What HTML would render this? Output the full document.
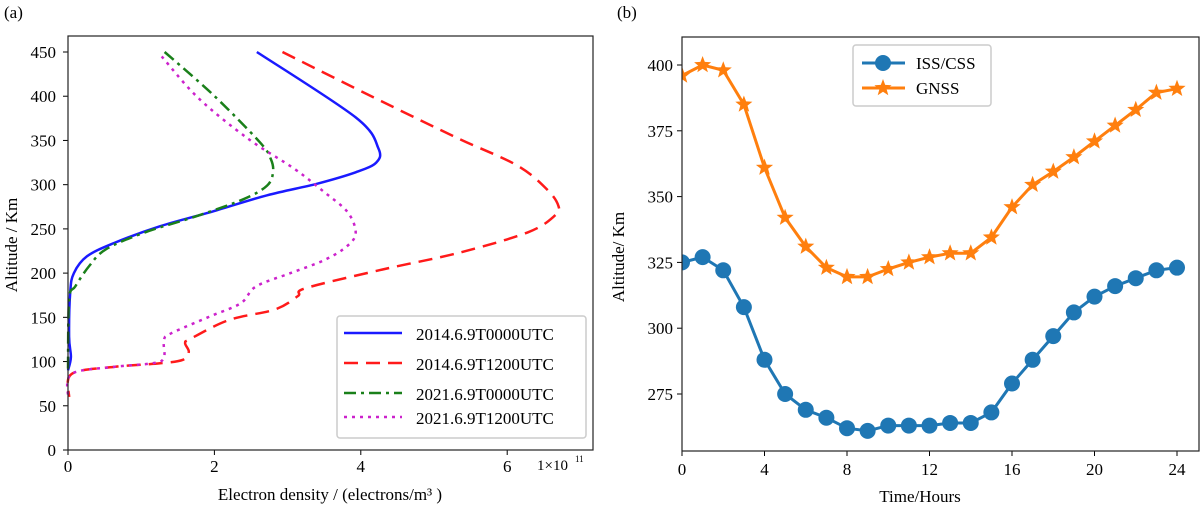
<!DOCTYPE html>
<html><head><meta charset="utf-8"><style>
body{margin:0;background:#fff;}
svg{display:block;font-family:"Liberation Serif",serif;}
</style></head><body>
<svg id="s" width="1200" height="508" xmlns="http://www.w3.org/2000/svg"></svg>
<script>
// Panel (a) data: [density x1e11, altitude km]
const blueData=[[2.58,450],[3.93,376],[4.24,341],[4.21,325],[3.93,314],[3.40,301],[2.72,288],[1.99,270],[1.26,253],[0.63,234],[0.26,219],[0.08,200],[0.03,178],[0.015,128],[0.04,105],[0.0,90]];
const redData=[[2.93,450],[4.29,394],[5.34,352],[6.13,322],[6.54,295],[6.70,276],[6.65,265],[6.28,246],[5.34,223],[4.29,204],[3.25,183],[3.14,174],[2.83,159],[2.2,147],[1.68,126],[1.6,121],[1.65,111],[1.57,102],[1.26,98],[0.63,94],[0.05,86],[0.015,60]];
const greenData=[[1.32,450],[1.99,401],[2.62,348],[2.77,329],[2.80,314],[2.72,299],[2.41,284],[1.78,265],[1.05,246],[0.52,227],[0.29,208],[0.1,185],[0.015,170],[0.0,90]];
const magentaData=[[1.28,445],[1.78,398],[2.46,352],[3.09,318],[3.51,291],[3.82,269],[3.93,246],[3.82,231],[3.51,215],[3.04,200],[2.57,185],[2.36,166],[1.94,151],[1.41,132],[1.31,124],[1.31,104],[1.15,98],[0.63,94],[0.05,86],[0.0,60]];
const aXTicks=[0,2,4,6];
const aYTicks=[0,50,100,150,200,250,300,350,400,450];
const aLegend=["2014.6.9T0000UTC","2014.6.9T1200UTC","2021.6.9T0000UTC","2021.6.9T1200UTC"];
// Panel (b) data
const hours=[0,1,2,3,4,5,6,7,8,9,10,11,12,13,14,15,16,17,18,19,20,21,22,23,24];
const gnss=[396,400,398,385,361,342,331,323,319.5,319.5,322.5,325,327,328.5,328.5,334.5,346,354.5,359.5,365,371,377,383,389.5,391];
const iss=[325,327,322,308,288,275,269,266,262,261,263,263,263,264,264,268,279,288,297,306,312,316,319,322,323];
const bXTicks=[0,4,8,12,16,20,24];
const bYTicks=[275,300,325,350,375,400];

const NS="http://www.w3.org/2000/svg";
const svg=document.getElementById('s');
function el(tag,attrs,parent,text){const e=document.createElementNS(NS,tag);for(const k in attrs)e.setAttribute(k,attrs[k]);if(text!==undefined)e.textContent=text;(parent||svg).appendChild(e);return e;}
function smooth(p){let d='M'+p[0][0]+','+p[0][1];for(let i=0;i<p.length-1;i++){const p0=p[i-1]||p[i],p1=p[i],p2=p[i+1],p3=p[i+2]||p2;
 const c1=[p1[0]+(p2[0]-p0[0])/6,p1[1]+(p2[1]-p0[1])/6],c2=[p2[0]-(p3[0]-p1[0])/6,p2[1]-(p3[1]-p1[1])/6];
 d+=' C'+c1[0].toFixed(1)+','+c1[1].toFixed(1)+' '+c2[0].toFixed(1)+','+c2[1].toFixed(1)+' '+p2[0].toFixed(1)+','+p2[1].toFixed(1);}return d;}

// ---- Panel A ----
const ax=v=>68+v*73.2, ay=v=>450-v*(398/450);
const gA=el('g',{});


let t=el('text',{x:4,y:18,'font-size':17},gA,'(a)');

aXTicks.forEach(v=>{el('line',{x1:ax(v),x2:ax(v),y1:450,y2:455,stroke:'#000'},gA);
 const tt=el('text',{x:ax(v),y:472,'font-size':17,'text-anchor':'middle'},gA,String(v));
 });
aYTicks.forEach(v=>{el('line',{x1:63,x2:68,y1:ay(v),y2:ay(v),stroke:'#000'},gA);
 const tt=el('text',{x:56,y:ay(v)+6,'font-size':17,'text-anchor':'end'},gA,String(v));
 });
t=el('text',{x:537,y:470,'font-size':15},gA,'1×10');
el('text',{x:575,y:462,'font-size':9},gA,'11');
t=el('text',{x:330,y:500,'font-size':17,'text-anchor':'middle'},gA,'Electron density /  (electrons/m³ )');

t=el('text',{x:0,y:0,'font-size':17,'text-anchor':'middle',transform:'translate(17,245) rotate(-90)'},gA,'Altitude / Km');

const styles=[{c:'#1a1aff',d:'',n:'series-2014-0000'},{c:'#ff1a1a',d:'14 8',n:'series-2014-1200'},{c:'#1a801a',d:'12 5 3 5',n:'series-2021-0000'},{c:'#cc22cc',d:'3 5',n:'series-2021-1200'}];
[blueData,redData,greenData,magentaData].forEach((d,i)=>{
 const p=el('path',{d:smooth(d.map(q=>[ax(q[0]),ay(q[1])])),fill:'none',stroke:styles[i].c,'stroke-width':2.5,'stroke-dasharray':styles[i].d,'stroke-linejoin':'round'},gA);
 });
el('rect',{x:68,y:36,width:525,height:414,fill:'none',stroke:'#222','stroke-width':1.2},gA);
const lgA=el('g',{},gA);

el('rect',{x:337,y:316,width:249,height:122,rx:3,fill:'#fff',stroke:'#ccc','stroke-width':1.5},lgA);
aLegend.forEach((s,i)=>{const yy=[334,364,394,418][i];
 el('line',{x1:344,x2:402,y1:yy-1,y2:yy-1,stroke:styles[i].c,'stroke-width':2.5,'stroke-dasharray':styles[i].d},lgA);
 const tt=el('text',{x:416,y:yy+6,'font-size':17},lgA,s);
 });

// ---- Panel B ----
const bx=v=>682+v*(495/24), by=v=>65+(400-v)*2.632;
const gB=el('g',{});


t=el('text',{x:617,y:18,'font-size':17},gB,'(b)');
bXTicks.forEach(v=>{el('line',{x1:bx(v),x2:bx(v),y1:451,y2:456,stroke:'#000'},gB);
 const tt=el('text',{x:bx(v),y:475,'font-size':17,'text-anchor':'middle'},gB,String(v));
 });
bYTicks.forEach(v=>{el('line',{x1:677,x2:682,y1:by(v),y2:by(v),stroke:'#000'},gB);
 const tt=el('text',{x:673,y:by(v)+6,'font-size':17,'text-anchor':'end'},gB,String(v));
 });
t=el('text',{x:920,y:502,'font-size':17,'text-anchor':'middle'},gB,'Time/Hours');
t=el('text',{x:0,y:0,'font-size':17,'text-anchor':'middle',transform:'translate(624,257) rotate(-90)'},gB,'Altitude/ Km');
const defs=el('defs',{});
const cp=el('clipPath',{id:'cb'},defs);el('rect',{x:682,y:37,width:518,height:414},cp);
const plot=el('g',{'clip-path':'url(#cb)'},gB);
function star(cx,cy,R){let pts=[];for(let k=0;k<10;k++){const r=k%2?R*0.42:R;const a=-Math.PI/2+k*Math.PI/5;pts.push((cx+r*Math.cos(a)).toFixed(1)+','+(cy+r*Math.sin(a)).toFixed(1));}return pts.join(' ');}
let pl=el('polyline',{points:hours.map((h,i)=>bx(h)+','+by(iss[i])).join(' '),fill:'none',stroke:'#1f77b4','stroke-width':3},plot);

hours.forEach((h,i)=>{const c=el('circle',{cx:bx(h),cy:by(iss[i]),r:8,fill:'#1f77b4'},plot);
 });
pl=el('polyline',{points:hours.map((h,i)=>bx(h)+','+by(gnss[i])).join(' '),fill:'none',stroke:'#ff7f0e','stroke-width':3},plot);

hours.forEach((h,i)=>{const c=el('polygon',{points:star(bx(h),by(gnss[i]),9),fill:'#ff7f0e'},plot);
 });
el('rect',{x:682,y:37,width:517,height:414,fill:'none',stroke:'#222','stroke-width':1.2},gB);
const lgB=el('g',{},gB);

el('rect',{x:853,y:45,width:138,height:61,rx:3,fill:'#fff',stroke:'#ccc','stroke-width':1.5},lgB);
el('line',{x1:862,x2:905,y1:63,y2:63,stroke:'#1f77b4','stroke-width':3},lgB);
el('circle',{cx:883,cy:63,r:8,fill:'#1f77b4'},lgB);
t=el('text',{x:916,y:69,'font-size':17},lgB,'ISS/CSS');
el('line',{x1:862,x2:905,y1:88,y2:88,stroke:'#ff7f0e','stroke-width':3},lgB);
el('polygon',{points:star(883,88,9),fill:'#ff7f0e'},lgB);
t=el('text',{x:916,y:94,'font-size':17},lgB,'GNSS');
</script>
</body></html>
